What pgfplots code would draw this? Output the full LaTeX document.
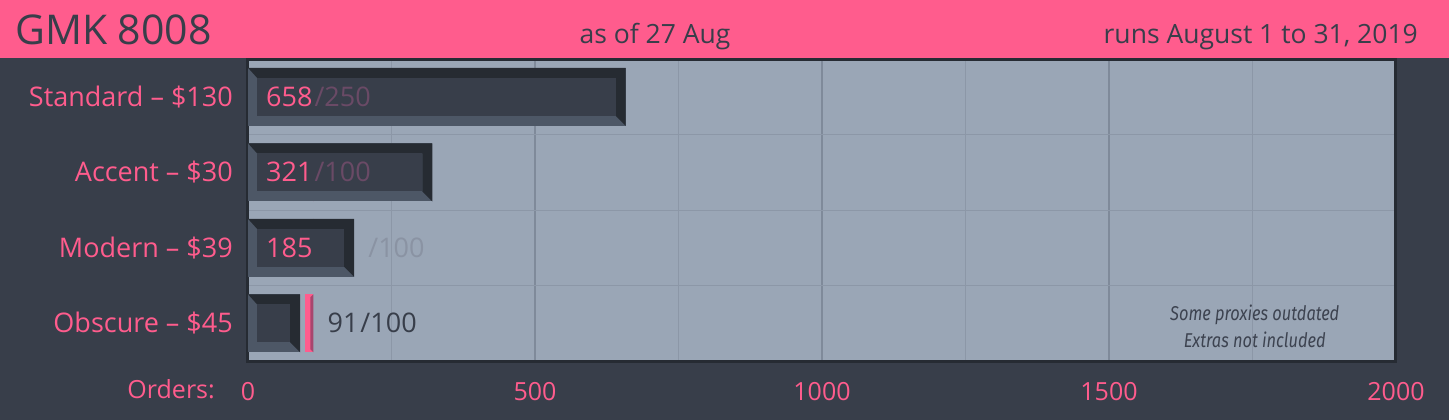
\documentclass[border=0pt]{standalone}
\usepackage{pgfplots}
\pgfplotsset{compat=1.18}
\usepackage{fontspec}
\setmainfont{Open Sans}
\newfontfamily\notefont{Fira Sans}
\usepackage{graphicx}
\definecolor{pk}{HTML}{FF5C8D}
\definecolor{pkdark}{HTML}{A8466E}
\definecolor{bgd}{HTML}{383E4A}
\definecolor{plotbg}{HTML}{9AA6B6}
\definecolor{frame}{HTML}{262B33}
\definecolor{bardark}{HTML}{262B32}
\definecolor{barlight}{HTML}{4D5766}
\definecolor{face}{HTML}{383E4A}
\definecolor{mut}{HTML}{6A4A66}
\definecolor{greytxt}{HTML}{8A93A3}
\definecolor{majgrid}{HTML}{7F8A9A}
\definecolor{mingrid}{HTML}{8C97A7}
\definecolor{notetxt}{HTML}{3D4350}

\pgfplotstableread{
y goal
0 250
1 100
2 100
3 100
}\goals

\pgfdeclareplotmark{goal}{%
  \pgfsetfillcolor{pk}%
  \pgfpathrectangle{\pgfpoint{0pt}{-29pt}}{\pgfpoint{8pt}{58pt}}\pgfusepath{fill}%
  \pgfsetfillcolor{pkdark}%
  \pgfpathmoveto{\pgfpoint{8pt}{29pt}}%
  \pgfpathlineto{\pgfpoint{8pt}{-29pt}}%
  \pgfpathlineto{\pgfpoint{5pt}{-26pt}}%
  \pgfpathlineto{\pgfpoint{5pt}{26pt}}%
  \pgfpathclose\pgfusepath{fill}%
}

\tikzset{keycap/.style={xbar, bar width=58pt, bar shift=0pt, fill=barlight, draw=none,
  path picture={
    \fill[bardark, path picture={}] (path picture bounding box.north west) -- (path picture bounding box.north east)
      -- (path picture bounding box.south east) -- ([xshift=-10pt,yshift=10pt]path picture bounding box.south east)
      -- ([xshift=-10pt,yshift=-10pt]path picture bounding box.north east)
      -- ([xshift=9pt,yshift=-10pt]path picture bounding box.north west) -- cycle;
    \fill[face, path picture={}] ([xshift=9pt,yshift=10pt]path picture bounding box.south west) rectangle ([xshift=-10pt,yshift=-10pt]path picture bounding box.north east);
  }}}

\newcommand{\lbl}{\fontsize{25}{30}\selectfont}
\newcommand{\cat}{\fontsize{27}{30}\selectfont}
\newcommand{\blb}{\fontsize{27}{30}\selectfont}
\newcommand{\slh}{\hspace{2pt}/}

\begin{document}
\begin{tikzpicture}
\fill[bgd] (0pt,0pt) rectangle (1449pt,420pt);
\fill[pk] (0pt,362pt) rectangle (1449pt,420pt);
\node[anchor=base west, inner sep=0, text=bgd, font=\fontsize{41}{44}\selectfont] at (15pt,375pt) {GMK 8008};
\node[anchor=base, inner sep=0, text=bgd, font=\fontsize{26.5}{28}\selectfont] at (655pt,376pt) {as of 27 Aug};
\node[anchor=base east, inner sep=0, text=bgd, font=\fontsize{26.5}{28}\selectfont] at (1418pt,376pt) {runs August 1 to 31, 2019};
\node[anchor=base east, inner sep=0, text=pk, font=\lbl] at (215pt,21pt) {Orders:};
\begin{axis}[at={(248pt,59pt)}, anchor=south west, scale only axis,
  width=1148pt, height=302pt,
  xmin=0, xmax=2000, ymin=-0.5, ymax=3.5, y dir=reverse,
  axis background/.style={fill=plotbg},
  axis line style={draw=frame, line width=3pt},
  xtick={0,500,1000,1500,2000},
  xticklabels={0,500,1000,1500,2000},
  minor xtick={250,750,1250,1750},
  ytick={0,1,2,3},
  yticklabels={Standard – \$130, Accent – \$30, Modern – \$39, Obscure – \$45},
  minor ytick={0.5,1.5,2.5},
  xmajorgrids, xminorgrids, yminorgrids,
  major grid style={draw=majgrid, line width=1.5pt},
  minor grid style={draw=mingrid, line width=1pt},
  major tick length=0pt, minor tick length=0pt,
  tick style={draw=none},
  xticklabel style={anchor=base, yshift=-39pt, text=pk, font=\lbl, inner sep=0pt},
  yticklabel style={anchor=base east, xshift=-15pt, yshift=-9.5pt, text=pk, font=\cat, inner sep=0pt},
  clip=false, clip marker paths=true,
]
\addplot[only marks, mark=goal] table[x=goal, y=y] {\goals};
\addplot[keycap] coordinates {(658,0)};
\addplot[keycap] coordinates {(321,1)};
\addplot[keycap] coordinates {(185,2)};
\addplot[keycap] coordinates {(91,3)};
\node[anchor=base west, inner sep=0, xshift=18pt, yshift=-9.5pt, font=\blb] at (axis cs:0,0) {\textcolor{pk}{658}\textcolor{mut}{\slh 250}};
\node[anchor=base west, inner sep=0, xshift=18pt, yshift=-9.5pt, font=\blb] at (axis cs:0,1) {\textcolor{pk}{321}\textcolor{mut}{\slh 100}};
\node[anchor=base west, inner sep=0, xshift=18pt, yshift=-9.5pt, font=\blb] at (axis cs:0,2) {\textcolor{pk}{185}};
\node[anchor=base west, inner sep=0, xshift=14pt, yshift=-9.5pt, font=\blb, text=greytxt] at (axis cs:185,2) {/100};
\node[anchor=base west, inner sep=0, xshift=22pt, yshift=-9.5pt, font=\blb, text=bgd] at (axis cs:100,3) {91\slh 100};
\node[align=center, text=notetxt, font=\notefont\itshape\fontsize{20}{27}\selectfont] at (axis cs:1754,3.04) {\scalebox{0.82}[1]{Some proxies outdated}\\\scalebox{0.82}[1]{Extras not included}};
\end{axis}
\end{tikzpicture}
\end{document}
